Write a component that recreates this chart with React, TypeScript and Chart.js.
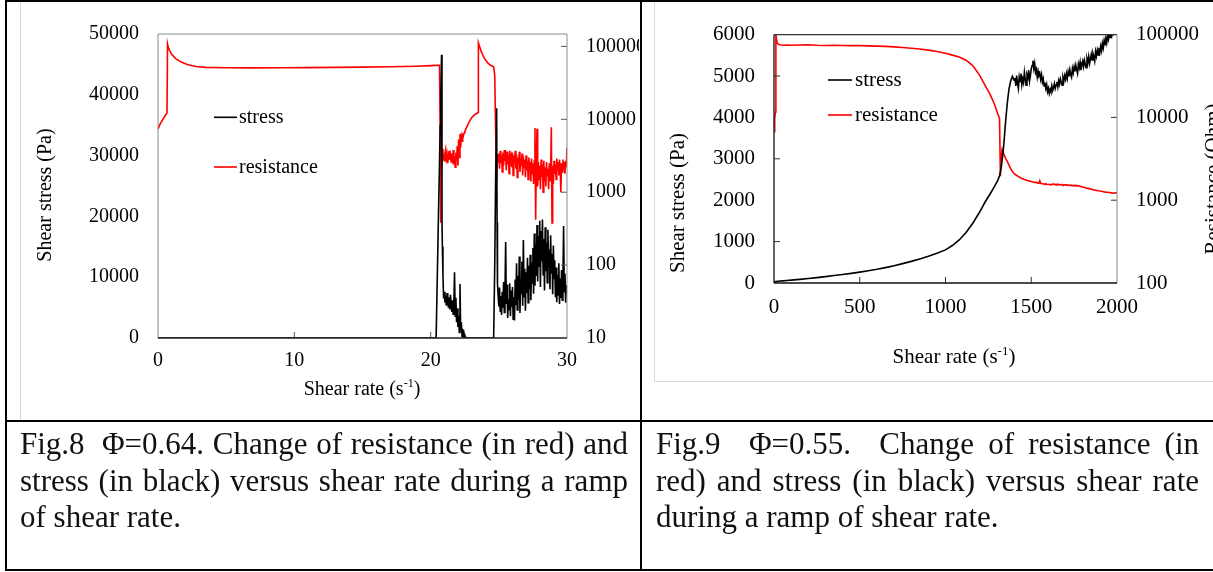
import React, { useEffect, useRef } from "react";
import { Chart, registerables } from "chart.js";

Chart.register(...registerables);

const SERIF = "'Liberation Serif', 'Times New Roman', Times, serif";

// ---------------- Fig. 8 (Φ = 0.64) ----------------
const rate8 = [
  0, 0.15, 0.3, 0.5, 0.66, 0.7, 0.75, 0.85, 1.0, 1.3, 1.7, 2.2, 2.8, 3.5, 5, 7, 9, 11, 13, 15, 17, 19, 20, 20.4,
  20.55, 20.65, 20.7, 20.74, 20.8, 20.83, 20.86, 20.9,
  20.95, 21, 21.05, 21.1, 21.15, 21.2, 21.25, 21.3, 21.35, 21.4, 21.45, 21.5, 21.55, 21.6, 21.65, 21.7, 21.75,
  21.8, 21.85, 21.9, 21.95, 22, 22.05, 22.1, 22.15, 22.2, 22.25, 22.3, 22.35, 22.4, 22.45, 22.5, 22.55, 22.6,
  22.8, 23, 23.2, 23.4, 23.48, 23.5, 23.6, 23.7, 23.85, 24, 24.2, 24.4, 24.62, 24.7, 24.76, 24.84, 24.87, 24.9,
  24.95, 25, 25.05, 25.1, 25.15, 25.2, 25.25, 25.3, 25.35, 25.4,
  25.45, 25.5, 25.55, 25.6, 25.65, 25.7, 25.75, 25.8, 25.85, 25.9,
  25.95, 26, 26.05, 26.1, 26.15, 26.2, 26.25, 26.3, 26.35, 26.4,
  26.45, 26.5, 26.55, 26.6, 26.65, 26.7, 26.75, 26.8, 26.85, 26.9,
  26.95, 27, 27.05, 27.1, 27.15, 27.2, 27.25, 27.3, 27.35, 27.4,
  27.45, 27.5, 27.55, 27.6, 27.65, 27.7, 27.75, 27.8, 27.85, 27.9,
  27.95, 28, 28.05, 28.1, 28.15, 28.2, 28.25, 28.3, 28.35, 28.4,
  28.45, 28.5, 28.55, 28.6, 28.65, 28.7, 28.75, 28.8, 28.85, 28.9,
  28.95, 29, 29.05, 29.1, 29.15, 29.2, 29.25, 29.3, 29.35, 29.4,
  29.45, 29.5, 29.55, 29.6, 29.65, 29.7, 29.75, 29.8, 29.85, 29.9,
  29.95, 30,
];

const stress8 = [
  0, 0, 0, 0, 0, 0, 0, 0, 0, 0, 0, 0, 0, 0, 0, 0, 0, 0, 0, 0, 0, 0, 0, 0,
  17500, 29000, 35000, 39600, 46600, 19000, 15000, 10400,
  6500, 7600, 5800, 6900, 5300, 7400, 6100, 5000, 6700, 4700, 7100, 5600, 4300, 6200, 3900, 5500, 10800,
  3600, 6600, 2600, 4900, 1800, 3700, 900, 8900, 1300, 2600, 300, 1500, 0, 700, 0, 200, 0,
  0, 0, 0, 0, 0, 0, 0, 0, 0, 0, 0, 0, 0, 12000, 25000, 37800, 19000, 9000,
  7000, 5200, 8300, 4400, 6900, 3800, 7600, 5000, 9200, 4200,
  7300, 15800, 5600, 8800, 3300, 6400, 4700, 9000, 3600, 7800,
  5100, 8400, 3100, 6700, 2900, 9600, 5400, 12300, 4600, 10200,
  6300, 13400, 4100, 9700, 7200, 12600, 5300, 16100, 6800, 11400,
  4500, 10800, 7400, 13200, 5800, 11900, 8100, 13700, 6200, 12400,
  9000, 14800, 7300, 17200, 8600, 15400, 10200, 18600, 9300, 16800,
  11800, 19300, 8400, 17600, 12600, 19500, 10400, 16300, 7800, 18200,
  11000, 15700, 9100, 17800, 12200, 14600, 8000, 16900, 10600, 13800,
  7200, 15200, 9800, 12800, 6700, 11600, 5900, 10400, 7100, 12300,
  5600, 9800, 6600, 11200, 6200, 9300, 18400, 7600, 10600, 5800,
  8700, 7200,
];

const resistance8 = [
  7300, 8600, 9600, 11000, 12200, 108000, 98000, 88000, 78000, 68000, 61000, 56000, 53000, 51500, 51000, 50800,
  51000, 51200, 51500, 52000, 52500, 53500, 54500, 55000,
  55000, 55000, 6000, 380, 3200, 2600, 3900, 2900,
  3100, 2700, 3500, 3900, 2900, 3300, 2500, 3000, 3700, 2800, 3200, 2600, 3400, 2900, 3800, 2400, 3100,
  2200, 3500, 2700, 4300, 2300, 5300, 3000, 6300, 4100, 5700, 5000, 6100, 5900, 6500, 6800, 7100, 7500,
  9000, 10500, 11500, 12100, 12400, 112000, 98000, 86000, 74000, 66000, 59000, 55000, 52500, 40000, 8000, 1450, 2700, 3300,
  2600, 3400, 2100, 3700, 2500, 3200, 1900, 3500, 2300, 3800,
  2700, 3100, 2000, 3600, 2400, 3300, 1800, 3700, 2600, 3000,
  2200, 3500, 1700, 3200, 2500, 3700, 2100, 3300, 1600, 3000,
  2400, 3600, 1900, 2900, 2300, 3400, 1700, 3100, 2200, 2800,
  1600, 3200, 2000, 2700, 1500, 3000, 2100, 2600, 1400, 2900,
  1800, 2500, 1300, 2700, 7600, 420, 2400, 7400, 1200, 2600,
  1500, 2300, 1100, 2800, 1600, 2400, 1000, 2700, 1400, 2200,
  1200, 2600, 1700, 2100, 1100, 2500, 1400, 2000, 7800, 380,
  2300, 1300, 2700, 1800, 2400, 1500, 2900, 2000, 2600, 1700,
  2800, 2200, 1000, 2500, 1900, 2800, 2100, 2600, 1800, 2700,
  2200, 4100,
];

const xTicks8 = [0, 10, 20, 30];
const stressTicks8 = [0, 10000, 20000, 30000, 40000, 50000];
const resTicks8 = [10, 100, 1000, 10000, 100000];

// ---------------- Fig. 9 (Φ = 0.55) ----------------
const rate9 = [
  0, 4, 8, 11, 14, 18, 25, 35, 50, 75, 100, 150, 200, 250, 300, 350, 400, 450, 500, 550, 600, 650, 700, 750,
  800, 850, 900, 950, 1000, 1040, 1080, 1120, 1160, 1200, 1230, 1260, 1285, 1305, 1315, 1320, 1325, 1330,
  1340, 1350, 1360, 1370, 1380, 1390, 1400,
  1405, 1410, 1415, 1420, 1425, 1430, 1435, 1440, 1445, 1450,
  1455, 1460, 1465, 1470, 1475, 1480, 1485, 1490, 1495, 1500,
  1505, 1510, 1515, 1520, 1525, 1530, 1535, 1540, 1545, 1550,
  1555, 1560, 1565, 1570, 1575, 1580, 1585, 1590, 1595, 1600,
  1605, 1610, 1615, 1620, 1625, 1630, 1635, 1640, 1645, 1650,
  1655, 1660, 1665, 1670, 1675, 1680, 1685, 1690, 1695, 1700,
  1705, 1710, 1715, 1720, 1725, 1730, 1735, 1740, 1745, 1750,
  1755, 1760, 1765, 1770, 1775, 1780, 1785, 1790, 1795, 1800,
  1805, 1810, 1815, 1820, 1825, 1830, 1835, 1840, 1845, 1850,
  1855, 1860, 1865, 1870, 1875, 1880, 1885, 1890, 1895, 1900,
  1905, 1910, 1915, 1920, 1925, 1930, 1935, 1940, 1945, 1950,
  1955, 1960, 1965, 1970, 1975, 1980, 1985, 1990, 1995, 2000,
];

const stress9 = [
  30, 32, 34, 36, 38, 40, 44, 48, 52, 60, 70, 88, 108, 130, 155, 180, 205, 232, 262, 295, 330, 372, 418, 468,
  522, 582, 645, 718, 800, 905, 1040, 1220, 1450, 1720, 1950, 2150, 2330, 2480, 2590, 2680, 2800, 2960,
  3350, 3880, 4330, 4680, 4880, 4990, 4900,
  4950, 4760, 5010, 4820, 4700, 4980, 4870, 5060, 4790, 4930,
  4840, 5090, 4920, 4780, 5030, 4960, 5140, 4880, 5010, 5170,
  5250, 5370, 5180, 5300, 5090, 5160, 4980, 5120, 5010, 5060,
  4920, 5030, 4850, 4930, 4760, 4840, 4700, 4790, 4620, 4700,
  4580, 4680, 4620, 4760, 4650, 4720, 4820, 4700, 4780, 4860,
  4740, 4890, 4800, 4930, 4850, 4780, 4970, 4880, 5010, 4920,
  5060, 4940, 5100, 4990, 5150, 5030, 4970, 5180, 5080, 5220,
  5110, 5260, 5150, 5060, 5290, 5200, 5330, 5140, 5270, 5360,
  5230, 5380, 5290, 5200, 5420, 5330, 5470, 5300, 5410, 5520,
  5390, 5540, 5460, 5360, 5590, 5480, 5620, 5510, 5680, 5570,
  5720, 5610, 5790, 5680, 5850, 5740, 5910, 5800, 5960, 5880,
  6020, 5930, 6080, 5990, 6120, 6040, 6170, 6080, 6200, 6130,
];

const resistance9 = [
  6700, 9500, 11600, 100000, 90000, 80000, 76500, 75500, 74500, 75000, 74500, 75000, 75500, 74500, 74000, 74500,
  74000, 73500, 73500, 73000, 72500, 72000, 71000, 70000, 68500, 67000, 65000, 62500, 59500, 56500, 53500, 49000,
  42000, 32000, 24500, 19000, 14500, 11000, 9800, 1950, 3300, 4100, 3600, 3200, 2950, 2650, 2400, 2220, 2100,
  2060, 2030, 1990, 1960, 1930, 1910, 1880, 1850, 1830, 1820,
  1800, 1780, 1770, 1750, 1740, 1720, 1710, 1700, 1690, 1680,
  1670, 1660, 1650, 1640, 1640, 1630, 1620, 1600, 1610, 1720,
  1600, 1590, 1580, 1570, 1570, 1560, 1580, 1560, 1550, 1550,
  1560, 1550, 1540, 1550, 1570, 1550, 1560, 1540, 1550, 1540,
  1560, 1550, 1530, 1540, 1550, 1530, 1520, 1540, 1530, 1540,
  1520, 1510, 1530, 1520, 1500, 1510, 1520, 1500, 1490, 1500,
  1510, 1500, 1490, 1500, 1490, 1480, 1470, 1460, 1450, 1440,
  1430, 1420, 1410, 1400, 1400, 1390, 1380, 1370, 1370, 1360,
  1350, 1340, 1340, 1330, 1320, 1310, 1310, 1300, 1300, 1290,
  1290, 1280, 1275, 1270, 1260, 1255, 1250, 1250, 1245, 1240,
  1240, 1235, 1230, 1225, 1220, 1215, 1220, 1225, 1230, 1240,
];

const xTicks9 = [0, 500, 1000, 1500, 2000];
const stressTicks9 = [0, 1000, 2000, 3000, 4000, 5000, 6000];
const resTicks9 = [100, 1000, 10000, 100000];

// ---------------- texts ----------------
const seriesNames = ["stress", "resistance"];
const yTitle = "Shear stress (Pa)";
const y1Title = "Resistance (Ohm)";
const xTitleMain = "Shear rate (s";
const xTitleSup = "-1";
const xTitleTail = ")";
const caption8 = "Fig.8  Φ=0.64. Change of resistance (in red) and stress (in black) versus shear rate during a ramp of shear rate.";
const caption9 = "Fig.9  Φ=0.55.  Change of resistance (in red) and stress (in black) versus shear rate during a ramp of shear rate.";

// ---------------- decoration plugin ----------------
const decorPlugin = {
  id: "decor",
  afterDatasetsDraw(chart: any, _args: any, o: any) {
    const { ctx, chartArea: a, scales } = chart;
    ctx.save();
    const seg = (x1: number, y1: number, x2: number, y2: number, c: string, w: number) => {
      ctx.beginPath();
      ctx.strokeStyle = c;
      ctx.lineWidth = w;
      ctx.moveTo(x1, y1);
      ctx.lineTo(x2, y2);
      ctx.stroke();
    };
    for (const t of o.ticks) {
      const sc = scales[t.scale];
      for (const v of t.values) {
        const p = sc.getPixelForValue(v);
        if (t.side === "left") seg(a.left, p, a.left + o.tickLen, p, o.tickColor, 1);
        else if (t.side === "right") seg(a.right - o.tickLen, p, a.right, p, o.tickColor, 1);
        else seg(p, a.bottom, p, a.bottom - o.tickLen, o.tickColor, 1);
      }
    }
    const f = o.frame;
    seg(a.left, a.top, a.right, a.top, f.top, f.topW);
    seg(a.right, a.top, a.right, a.bottom, f.right, f.rightW);
    seg(a.left, a.top, a.left, a.bottom, f.left, f.leftW);
    seg(a.left, a.bottom, a.right, a.bottom, f.bottom, f.bottomW);

    const L = o.legend;
    ctx.font = `${o.fontSize}px ${SERIF}`;
    ctx.textAlign = "left";
    ctx.textBaseline = "alphabetic";
    ctx.fillStyle = "#000";
    chart.data.datasets.forEach((ds: any, i: number) => {
      const y = L.y + i * L.dy;
      seg(L.x, y, L.x + L.len, y, ds.borderColor, ds.borderWidth);
      ctx.fillText(ds.label, L.x + L.len + L.gap, y + L.base);
    });

    for (const t of o.titles) {
      ctx.save();
      ctx.fillStyle = "#000";
      if (t.sup) {
        ctx.textAlign = "left";
        ctx.textBaseline = "alphabetic";
        ctx.font = `${o.fontSize}px ${SERIF}`;
        const w1 = ctx.measureText(t.text).width;
        const w3 = ctx.measureText(t.tail).width;
        ctx.font = `${Math.round(o.fontSize * 0.62)}px ${SERIF}`;
        const w2 = ctx.measureText(t.sup).width;
        const x0 = t.x - (w1 + w2 + w3) / 2;
        ctx.font = `${o.fontSize}px ${SERIF}`;
        ctx.fillText(t.text, x0, t.y);
        ctx.fillText(t.tail, x0 + w1 + w2, t.y);
        ctx.font = `${Math.round(o.fontSize * 0.62)}px ${SERIF}`;
        ctx.fillText(t.sup, x0 + w1, t.y - o.fontSize * 0.4);
      } else {
        ctx.translate(t.x, t.y);
        ctx.rotate(-Math.PI / 2);
        ctx.textAlign = "center";
        ctx.textBaseline = "middle";
        ctx.font = `${o.fontSize}px ${SERIF}`;
        ctx.fillText(t.text, 0, 0);
      }
      ctx.restore();
    }
    ctx.restore();
  },
};

function makeConfig(p: any) {
  const tickFont = { family: SERIF, size: p.fontSize };
  const fixed = (arr: number[]) => (s: any) => {
    s.ticks = arr.map((v) => ({ value: v }));
  };
  return {
    type: "line",
    data: {
      datasets: [
        {
          label: seriesNames[0],
          data: p.rate.map((x: number, i: number) => ({ x, y: p.stress[i] })),
          yAxisID: "y",
          borderColor: "#000000",
          borderWidth: 1.6,
          pointRadius: 0,
          tension: 0,
        },
        {
          label: seriesNames[1],
          data: p.rate.map((x: number, i: number) => ({ x, y: p.res[i] })),
          yAxisID: "y1",
          borderColor: "#ff0000",
          borderWidth: 1.6,
          pointRadius: 0,
          tension: 0,
        },
      ],
    },
    options: {
      responsive: false,
      animation: false,
      devicePixelRatio: 1,
      layout: { padding: { top: p.padTop, left: 0, right: 0, bottom: 0 } },
      plugins: {
        legend: { display: false },
        tooltip: { enabled: false },
        decor: p.decor,
      },
      scales: {
        x: {
          type: "linear",
          min: p.xTicks[0],
          max: p.xTicks[p.xTicks.length - 1],
          afterBuildTicks: fixed(p.xTicks),
          ticks: { font: tickFont, color: "#000", padding: p.xPad, maxRotation: 0, autoSkip: false, callback: (v: any) => String(v) },
          grid: { display: false, drawTicks: false },
          border: { display: false },
          afterFit: (s: any) => { s.height = p.xH; },
        },
        y: {
          type: "linear",
          position: "left",
          min: p.sTicks[0],
          max: p.sTicks[p.sTicks.length - 1],
          afterBuildTicks: fixed(p.sTicks),
          ticks: { font: tickFont, color: "#000", padding: 19, autoSkip: false, callback: (v: any) => String(v) },
          grid: { display: false, drawTicks: false },
          border: { display: false },
          afterFit: (s: any) => { s.width = p.yW; },
        },
        y1: {
          type: "logarithmic",
          position: "right",
          min: p.rMin,
          max: p.rMax,
          afterBuildTicks: fixed(p.rTicks),
          ticks: { font: tickFont, color: "#000", padding: 19, autoSkip: false, callback: (v: any) => String(v) },
          grid: { display: false, drawTicks: false },
          border: { display: false },
          afterFit: (s: any) => { s.width = p.y1W; },
        },
      },
    },
    plugins: [decorPlugin],
  };
}

function ChartBox({ params, left, top, width, height }: any) {
  const ref = useRef<HTMLCanvasElement>(null);
  useEffect(() => {
    const chart = new Chart(ref.current as HTMLCanvasElement, makeConfig(params) as any);
    return () => chart.destroy();
  }, []);
  return (
    <canvas
      ref={ref}
      width={width}
      height={height}
      style={{ position: "absolute", left, top, width, height }}
    />
  );
}

const fig8Params = {
  rate: rate8, stress: stress8, res: resistance8,
  xTicks: xTicks8, sTicks: stressTicks8, rTicks: resTicks8,
  rMin: 10, rMax: 148000,
  fontSize: 20, padTop: 24, xH: 83, yW: 150, y1W: 72, xPad: 11,
  decor: {
    tickLen: 6, tickColor: "#555",
    fontSize: 20,
    ticks: [
      { scale: "y1", side: "right", values: [100, 1000, 10000, 100000] },
      { scale: "x", side: "bottom", values: [10, 20] },
    ],
    frame: { top: "#8a8a8a", topW: 1, right: "#8a8a8a", rightW: 1, left: "#8a8a8a", leftW: 1, bottom: "#222", bottomW: 1.6 },
    legend: { x: 206, y: 114.3, dy: 49.7, len: 23, gap: 2, base: 5.5 },
    titles: [
      { text: yTitle, x: 38, y: 192 },
      { text: xTitleMain, sup: xTitleSup, tail: xTitleTail, x: 354, y: 392 },
    ],
  },
};

const fig9Params = {
  rate: rate9, stress: stress9, res: resistance9,
  xTicks: xTicks9, sTicks: stressTicks9, rTicks: resTicks9,
  rMin: 100, rMax: 100000,
  fontSize: 21, padTop: 29, xH: 98, yW: 119, y1W: 96, xPad: 12,
  decor: {
    tickLen: 6, tickColor: "#333",
    fontSize: 21,
    ticks: [
      { scale: "y", side: "left", values: [1000, 3000, 5000] },
      { scale: "y1", side: "right", values: [1000, 10000] },
      { scale: "x", side: "bottom", values: [500, 1000, 1500] },
    ],
    frame: { top: "#333", topW: 1.3, right: "#8a8a8a", rightW: 1, left: "#222", leftW: 1.4, bottom: "#111", bottomW: 1.5 },
    legend: { x: 173, y: 77, dy: 35, len: 24, gap: 3, base: 6 },
    titles: [
      { text: yTitle, x: 23, y: 200 },
      { text: y1Title, x: 558, y: 176 },
      { text: xTitleMain, sup: xTitleSup, tail: xTitleTail, x: 299, y: 360 },
    ],
  },
};

const line = (left: number, top: number, width: number, height: number, color = "#000"): React.CSSProperties => ({
  position: "absolute", left, top, width, height, background: color,
});

const captionStyle = (left: number, width: number): React.CSSProperties => ({
  position: "absolute",
  left,
  top: 426,
  width,
  fontFamily: SERIF,
  fontSize: 31,
  lineHeight: "36.5px",
  textAlign: "justify",
  whiteSpace: "pre-wrap",
  color: "#111",
  margin: 0,
});

export default function App() {
  return (
    <div
      style={{
        position: "absolute",
        left: 0,
        top: 0,
        width: 1213,
        height: 572,
        background: "#fff",
        overflow: "hidden",
        fontFamily: SERIF,
      }}
    >
      <ChartBox params={fig8Params} left={8} top={3} width={631} height={418} />
      <ChartBox params={fig9Params} left={655} top={3} width={558} height={378} />

      {/* image frames */}
      <div style={line(20, 2, 1, 418, "#d6d6d6")} />
      <div style={line(654, 2, 1, 380, "#d9d9d9")} />
      <div style={line(654, 381, 559, 1, "#d9d9d9")} />

      {/* table borders */}
      <div style={line(5, 0, 1208, 2)} />
      <div style={line(5, 0, 2, 571)} />
      <div style={line(640, 0, 2, 571)} />
      <div style={line(5, 420, 1208, 2)} />
      <div style={line(5, 569, 1208, 2)} />

      <div style={captionStyle(20, 608)}>{caption8}</div>
      <div style={captionStyle(656, 543)}>{caption9}</div>
    </div>
  );
}
